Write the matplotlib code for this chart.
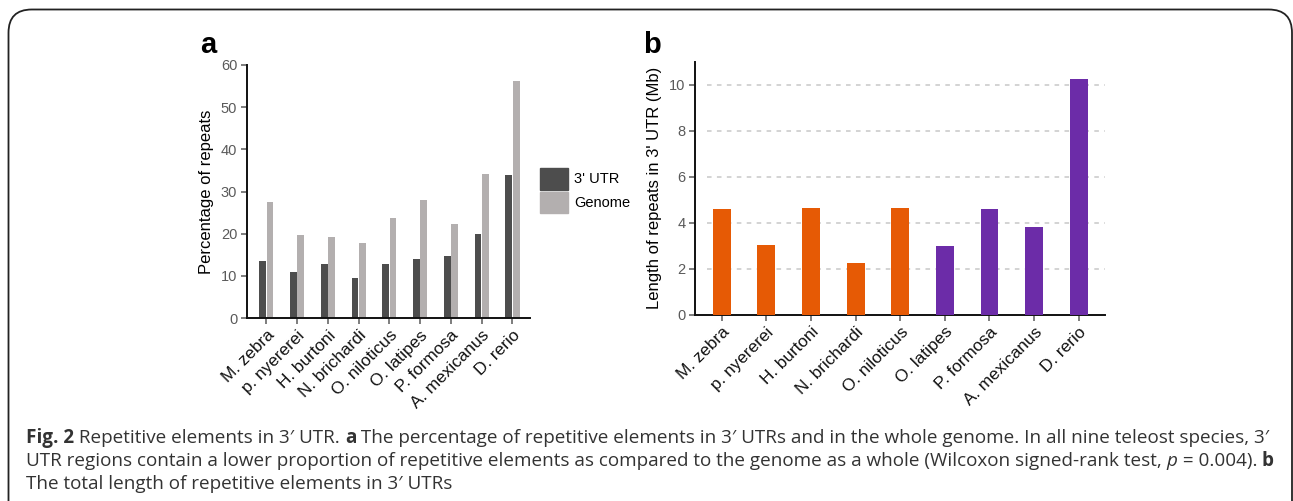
import matplotlib
matplotlib.use("Agg")
import matplotlib.pyplot as plt
from matplotlib.patches import FancyBboxPatch, Patch
import numpy as np

species = ["M. zebra", "p. nyererei", "H. burtoni", "N. brichardi", "O. niloticus",
           "O. latipes", "P. formosa", "A. mexicanus", "D. rerio"]
utr_pct = [13.4, 11.0, 12.9, 9.4, 12.9, 13.9, 14.8, 20.0, 34.0]
genome_pct = [27.4, 19.6, 19.1, 17.7, 23.8, 28.1, 22.4, 34.2, 56.2]
utr_len_mb = [4.59, 3.01, 4.62, 2.23, 4.62, 2.97, 4.59, 3.83, 10.23]
groups = ["cichlid"] * 5 + ["other"] * 4
y_ticks_a = [0, 10, 20, 30, 40, 50, 60]
y_ticks_b = [0, 2, 4, 6, 8, 10]

C_UTR = "#4d4d4d"
C_GEN = "#b3afaf"
C_ORANGE = "#e65a05"
C_PURPLE = "#6c2ca8"
TICK_C = "#5a5a5a"

plt.rcParams['font.family'] = ['Liberation Sans', 'DejaVu Sans']

W, H = 1293, 501
fig = plt.figure(figsize=(W / 100, H / 100), dpi=100)

def ax_rect(l, r, t, b):
    return [l / W, (H - b) / H, (r - l) / W, (b - t) / H]

# border
border = FancyBboxPatch((8.5 / W, -0.2), (1292 - 8.5) / W, (H - 9.5) / H + 0.2,
                        boxstyle="round,pad=0,rounding_size=0.018",
                        transform=fig.transFigure, fill=False, ec="#222222", lw=1.3,
                        mutation_aspect=W / H)
fig.patches.append(border)

x = np.arange(len(species))
XT_FS = 12.3

# ---- panel a ----
axa = fig.add_axes(ax_rect(247, 530, 65, 318))
bw = 0.22
axa.bar(x - 0.12, utr_pct, bw, color=C_UTR, label="3' UTR")
axa.bar(x + 0.12, genome_pct, bw, color=C_GEN, label="Genome")
axa.set_ylim(0, 60)
axa.set_xlim(-0.63, 8.57)
axa.set_yticks(y_ticks_a)
axa.set_xticks(x)
axa.set_xticklabels(species, rotation=45, ha="right", rotation_mode="anchor", fontsize=XT_FS)
axa.set_ylabel("Percentage of repeats", fontsize=12, labelpad=5)
leg = fig.legend(handles=[Patch(color=C_UTR, label="3' UTR"), Patch(color=C_GEN, label="Genome")],
                 loc="upper left", bbox_to_anchor=(537 / W, (H - 165) / H),
                 frameon=False, fontsize=10.5, handlelength=1.9, handleheight=1.9,
                 handletextpad=0.45, labelspacing=0.15, borderaxespad=0, borderpad=0.2)

# ---- panel b ----
axb = fig.add_axes(ax_rect(695, 1105, 61.7, 314.7))
cols = [C_ORANGE if g == "cichlid" else C_PURPLE for g in groups]
axb.bar(x, utr_len_mb, 0.4, color=cols, zorder=3)
axb.set_ylim(0, 11)
axb.set_xlim(-0.6, 8.59)
axb.set_yticks(y_ticks_b)
axb.set_xticks(x)
axb.set_xticklabels(species, rotation=45, ha="right", rotation_mode="anchor", fontsize=XT_FS)
axb.set_ylabel("Length of repeats in 3' UTR (Mb)", fontsize=12, labelpad=5)
for v in y_ticks_b[1:]:
    axb.axhline(v, xmin=0.03, color="#c8c8c8", lw=1.1, ls=(0, (3, 3.5)), zorder=1)

for ax in (axa, axb):
    for s in ("top", "right"):
        ax.spines[s].set_visible(False)
    for s in ("left", "bottom"):
        ax.spines[s].set_linewidth(1.4)
        ax.spines[s].set_color("#111111")
    ax.tick_params(axis="y", labelsize=10.5, colors=TICK_C, length=4, width=1.1, pad=3)
    ax.tick_params(axis="x", length=4, width=1.1, color=TICK_C, labelcolor="#111111", pad=3)
    ax.set_facecolor("none")

fig.text(200 / W, (H - 53) / H, "a", fontsize=21, fontweight="bold", ha="left", va="baseline")
fig.text(643 / W, (H - 53) / H, "b", fontsize=21, fontweight="bold", ha="left", va="baseline")

# ---- caption ----
cap_family = ['Open Sans', 'DejaVu Sans']
lines = [
    [("Fig. 2", "bold", "normal"), (" Repetitive elements in 3\u2032 UTR. ", "normal", "normal"),
     ("a", "bold", "normal"),
     (" The percentage of repetitive elements in 3\u2032 UTRs and in the whole genome. In all nine teleost species, 3\u2032", "normal", "normal")],
    [("UTR regions contain a lower proportion of repetitive elements as compared to the genome as a whole (Wilcoxon signed-rank test, ", "normal", "normal"),
     ("p", "normal", "italic"), (" = 0.004). ", "normal", "normal"), ("b", "bold", "normal")],
    [("The total length of repetitive elements in 3\u2032 UTRs", "normal", "normal")],
]
baselines = [443, 466, 489]
fig.canvas.draw()
renderer = fig.canvas.get_renderer()

def run_width(runs, fs):
    tot = 0.0
    for txt, wt, st in runs:
        t = fig.text(0, 0, txt, fontsize=fs, fontweight=wt, fontstyle=st, family=cap_family)
        tot += t.get_window_extent(renderer).width
        t.remove()
    return tot

base_fs = 11.6
w0 = run_width(lines[0], base_fs)
cap_fs = base_fs * (1270 - 26) / w0

for runs, yb in zip(lines, baselines):
    xp = 26.0
    for txt, wt, st in runs:
        t = fig.text(xp / W, (H - yb) / H, txt, fontsize=cap_fs, fontweight=wt, fontstyle=st,
                     family=cap_family, color="#333333", ha="left", va="baseline")
        xp += t.get_window_extent(renderer).width

fig.savefig("out.png", dpi=100)
